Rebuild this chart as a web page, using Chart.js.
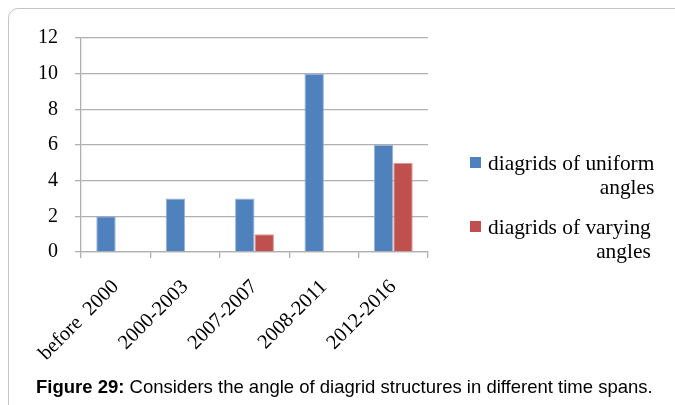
<!DOCTYPE html>
<html>
<head>
<meta charset="utf-8">
<script src="https://cdn.jsdelivr.net/npm/chart.js@4/dist/chart.umd.min.js"></script>
<style>
  html, body { margin: 0; padding: 0; background: #fff; }
  body { width: 675px; height: 405px; position: relative; overflow: hidden; }
  #frame { position: absolute; left: 8px; top: 8px; width: 700px; height: 420px;
           border: 1.5px solid #c4c4c4; border-radius: 10px; box-sizing: border-box; }
  #wrap { position: absolute; left: 0; top: 0; width: 675px; height: 405px; }
  #legend { position: absolute; left: 0; top: 0; }
  .item { position: absolute; left: 470px; white-space: nowrap; }
  .box { position: absolute; left: 0; width: 11px; height: 11px; }
  .txt { position: absolute; left: 18px; top: 0; display: inline-block; text-align: right;
         font-family: "Liberation Serif", "Times New Roman", serif; font-size: 21.4px;
         line-height: 24px; color: #000; }
  #caption { position: absolute; left: 36px; top: 376px; white-space: nowrap; line-height: 21px;
             font-family: "Liberation Sans", Arial, sans-serif; font-size: 18.5px; color: #000; }
</style>
</head>
<body>
<div id="frame"></div>
<div id="wrap"><canvas id="c" width="675" height="405"></canvas></div>
<div id="legend"></div>
<div id="caption"><b>Figure 29:</b> Considers the angle of diagrid structures in different time spans.</div>
<script>
const categories = ["before  2000", "2000-2003", "2007-2007", "2008-2011", "2012-2016"];
const uniformAngles = [2, 3, 3, 10, 6];
const varyingAngles = [0, 0, 1, 0, 5];
const seriesNames = ["diagrids of uniform angles", "diagrids of varying angles"];
const legendLines = [["diagrids of uniform", "angles"], ["diagrids of varying", "angles"]];
const yTicks = [0, 2, 4, 6, 8, 10, 12];

const gridColor = "#b0b0b0";
const serif = "'Liberation Serif', 'Times New Roman', serif";

const chart = new Chart(document.getElementById("c"), {
  type: "bar",
  data: {
    labels: categories,
    datasets: [
      { label: seriesNames[0], data: uniformAngles, backgroundColor: "#4F81BD",
        borderColor: "rgba(140,170,215,0.9)", borderWidth: 1, borderSkipped: "bottom" },
      { label: seriesNames[1], data: varyingAngles, backgroundColor: "#C0504D",
        borderColor: "rgba(215,140,138,0.9)", borderWidth: 1, borderSkipped: "bottom" }
    ]
  },
  options: {
    responsive: false,
    animation: false,
    devicePixelRatio: 1,
    layout: { padding: { left: 0, top: 38, right: 247, bottom: 0 } },
    plugins: { legend: { display: false }, tooltip: { enabled: false } },
    datasets: { bar: { categoryPercentage: 0.56, barPercentage: 1.0 } },
    scales: {
      x: {
        grid: { drawOnChartArea: false, drawTicks: true, tickLength: 6, color: gridColor, lineWidth: 1.3, offset: true },
        border: { color: gridColor, width: 1.3 },
        ticks: { color: "#000", font: { family: serif, size: 20.5 }, minRotation: 45, maxRotation: 45,
                 autoSkip: false, padding: 17 },
        afterFit: (s) => { s.height = 153; }
      },
      y: {
        min: 0, max: 12,
        afterBuildTicks: (s) => { s.ticks = yTicks.map(v => ({ value: v })); },
        grid: { color: gridColor, lineWidth: 1.3, tickLength: 6 },
        border: { color: gridColor, width: 1.3 },
        ticks: { color: "#000", font: { family: serif, size: 20 }, padding: 17 },
        afterFit: (s) => { s.width = 81; }
      }
    }
  }
});

const legend = document.getElementById("legend");
chart.data.datasets.forEach((ds, i) => {
  const item = document.createElement("div");
  item.className = "item";
  item.style.top = (151 + i * 64) + "px";
  const box = document.createElement("div");
  box.className = "box";
  box.style.top = "6px";
  box.style.background = ds.backgroundColor;
  const txt = document.createElement("div");
  txt.className = "txt";
  txt.innerHTML = legendLines[i].join("<br>");
  item.appendChild(box);
  item.appendChild(txt);
  legend.appendChild(item);
});
</script>
</body>
</html>
